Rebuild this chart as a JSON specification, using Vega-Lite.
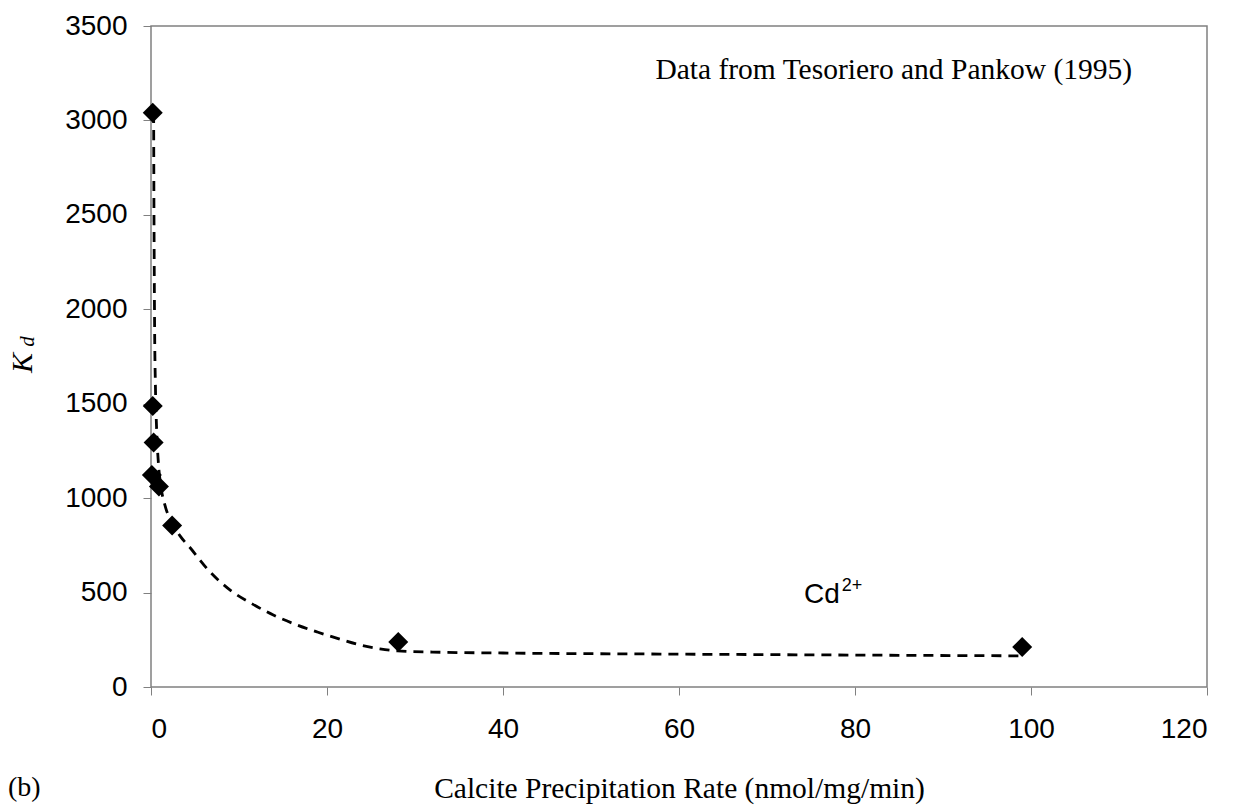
{
  "$schema": "https://vega.github.io/schema/vega-lite/v6.json",
  "width": 1056,
  "height": 661,
  "autosize": {"type": "none"},
  "padding": {"left": 151, "top": 26, "right": 36, "bottom": 122},
  "background": "white",
  "config": {
    "view": {"stroke": "#808080", "strokeWidth": 1.5},
    "axis": {"grid": false, "domain": false, "tickColor": "#808080", "tickSize": 8, "tickWidth": 1,
             "labelFont": "Liberation Sans", "labelFontSize": 28, "labelColor": "black", "format": "d",
             "titleFont": "Liberation Serif", "titleFontSize": 29.5, "titleFontWeight": "normal", "titleColor": "black"}
  },
  "datasets": {
    "points": [
      {"rate": 0.2, "kd": 3040},
      {"rate": 0.2, "kd": 1488},
      {"rate": 0.3, "kd": 1295},
      {"rate": 0.1, "kd": 1122},
      {"rate": 0.9, "kd": 1062},
      {"rate": 2.4, "kd": 855},
      {"rate": 28.1, "kd": 238},
      {"rate": 99.0, "kd": 212}
    ],
    "curve": [
      {"rate": 0.3, "kd": 3040},
      {"rate": 0.33, "kd": 2600},
      {"rate": 0.37, "kd": 2200},
      {"rate": 0.42, "kd": 1850},
      {"rate": 0.5, "kd": 1600},
      {"rate": 0.65, "kd": 1350},
      {"rate": 0.85, "kd": 1180},
      {"rate": 1.1, "kd": 1070},
      {"rate": 1.6, "kd": 960},
      {"rate": 2.4, "kd": 870},
      {"rate": 3.3, "kd": 800},
      {"rate": 4.4, "kd": 740},
      {"rate": 6.5, "kd": 620},
      {"rate": 9.0, "kd": 513},
      {"rate": 11.5, "kd": 440},
      {"rate": 13.9, "kd": 381},
      {"rate": 16.5, "kd": 330},
      {"rate": 18.9, "kd": 291},
      {"rate": 21.5, "kd": 253},
      {"rate": 23.8, "kd": 222},
      {"rate": 26.0, "kd": 202},
      {"rate": 28.0, "kd": 191},
      {"rate": 32.0, "kd": 185},
      {"rate": 40.0, "kd": 180},
      {"rate": 60.0, "kd": 174},
      {"rate": 80.0, "kd": 169},
      {"rate": 99.0, "kd": 165}
    ]
  },
  "layer": [
    {
      "data": {"name": "curve"},
      "mark": {"type": "line", "color": "black", "strokeWidth": 2.8, "strokeDash": [10, 7], "interpolate": "monotone"},
      "encoding": {
        "x": {"field": "rate", "type": "quantitative",
              "scale": {"domain": [0, 120], "nice": false},
              "axis": {"values": [0, 20, 40, 60, 80, 100, 120], "labelPadding": 20,
                       "title": "Calcite Precipitation Rate (nmol/mg/min)", "titlePadding": 31}},
        "y": {"field": "kd", "type": "quantitative",
              "scale": {"domain": [0, 3500], "nice": false},
              "axis": {"values": [0, 500, 1000, 1500, 2000, 2500, 3000, 3500], "labelPadding": 16, "title": null}}
      }
    },
    {
      "data": {"name": "points"},
      "mark": {"type": "point", "shape": "diamond", "filled": true, "color": "black", "opacity": 1, "size": 400},
      "encoding": {
        "x": {"field": "rate", "type": "quantitative"},
        "y": {"field": "kd", "type": "quantitative"}
      }
    },
    {
      "data": {"values": [{"x": 84.4, "y": 3220, "t": "Data from Tesoriero and Pankow (1995)"}]},
      "mark": {"type": "text", "font": "Liberation Serif", "fontSize": 29.5, "color": "black", "align": "center", "baseline": "alphabetic"},
      "encoding": {
        "x": {"field": "x", "type": "quantitative"},
        "y": {"field": "y", "type": "quantitative"},
        "text": {"field": "t"}
      }
    },
    {
      "data": {"values": [{"x": 76.25, "y": 445, "t": "Cd"}]},
      "mark": {"type": "text", "font": "Liberation Sans", "fontSize": 28, "color": "black", "align": "center", "baseline": "alphabetic"},
      "encoding": {
        "x": {"field": "x", "type": "quantitative"},
        "y": {"field": "y", "type": "quantitative"},
        "text": {"field": "t"}
      }
    },
    {
      "data": {"values": [{"x": 78.5, "y": 508, "t": "2+"}]},
      "mark": {"type": "text", "font": "Liberation Sans", "fontSize": 18, "color": "black", "align": "left", "baseline": "alphabetic"},
      "encoding": {
        "x": {"field": "x", "type": "quantitative"},
        "y": {"field": "y", "type": "quantitative"},
        "text": {"field": "t"}
      }
    },
    {
      "data": {"values": [{"x": -14.4, "y": -577, "t": "(b)"}]},
      "mark": {"type": "text", "font": "Liberation Serif", "fontSize": 28, "color": "black", "align": "center", "baseline": "alphabetic"},
      "encoding": {
        "x": {"field": "x", "type": "quantitative"},
        "y": {"field": "y", "type": "quantitative"},
        "text": {"field": "t"}
      }
    },
    {
      "data": {"values": [{"x": -14.5, "y": 1715, "t": "K"}]},
      "mark": {"type": "text", "font": "Liberation Serif", "fontStyle": "italic", "fontSize": 30, "color": "black", "align": "center", "baseline": "middle", "angle": 270},
      "encoding": {
        "x": {"field": "x", "type": "quantitative"},
        "y": {"field": "y", "type": "quantitative"},
        "text": {"field": "t"}
      }
    },
    {
      "data": {"values": [{"x": -14.0, "y": 1830, "t": "d"}]},
      "mark": {"type": "text", "font": "Liberation Serif", "fontStyle": "italic", "fontSize": 21, "color": "black", "align": "center", "baseline": "middle", "angle": 270},
      "encoding": {
        "x": {"field": "x", "type": "quantitative"},
        "y": {"field": "y", "type": "quantitative"},
        "text": {"field": "t"}
      }
    }
  ]
}
